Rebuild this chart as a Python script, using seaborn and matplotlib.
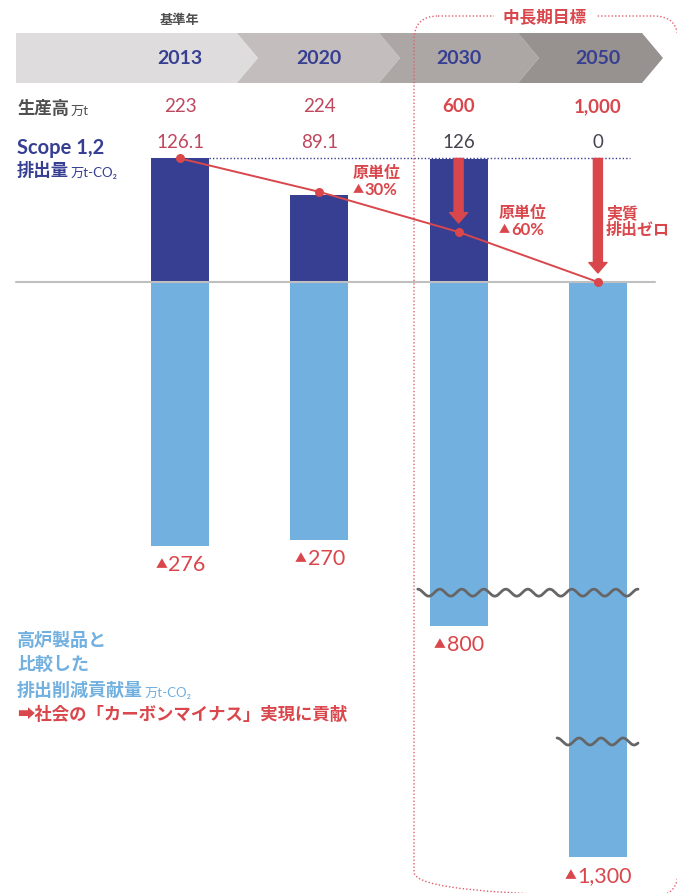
import numpy as np
import pandas as pd
import matplotlib
matplotlib.use('Agg')
import matplotlib.pyplot as plt
import matplotlib.transforms as mtransforms
from matplotlib.patches import Polygon, FancyBboxPatch
import seaborn as sns

# --- Data ---
YEARS = ['2013', '2020', '2030', '2050']
PRODUCTION = [223, 224, 600, 1000]          # 生産高 万t
SCOPE12 = [126.1, 89.1, 126, 0]             # Scope 1,2 排出量 万t-CO2
INTENSITY_TREND = [126.1, 92, 51, 0]        # 原単位の推移 (2013年排出量を基準に表示)
REDUCTION = [276, 270, 800, 1300]           # 高炉製品と比較した排出削減貢献量 万t-CO2
INTENSITY_CUT = {'2020': 30, '2030': 60}    # 原単位 ▲%
TARGET_YEARS = ['2030', '2050']             # 中長期目標
BASE_YEAR = '2013'

# --- Colours ---
NAVY = '#363f92'
LIGHT = '#72b0e0'
RED = '#d9474c'
CRIMSON = '#bf475e'
DARK = '#454550'
GREY_TXT = '#505050'
BAND = ['#dfdcdd', '#c3bebd', '#aca6a5', '#979190']

# --- Layout (pixels of the 677x893 picture) ---
W, H = 677, 893
CAT0, CAT_STEP = 180, 139.3     # px of first category, px between categories
BAR_W = 0.416
ZERO_PX = 282                   # zero line, px from top
# broken value axis: value -> px above the zero line
SCALE_V = [-3000, -1300, -800, -340, 0, 3000]
SCALE_P = [-1360, -575, -344, -325, 0, 2940]
BREAKS = [(-325, '2030'), (-1050, '2050')]


def to_px(v):
    return np.interp(v, SCALE_V, SCALE_P)


def from_px(p):
    return np.interp(p, SCALE_P, SCALE_V)


sns.set_theme(style='white')
plt.rcParams['font.family'] = ['Lato', 'Noto Sans CJK JP', 'DejaVu Sans']

fig = plt.figure(figsize=(W / 100, H / 100), dpi=100)
ax = fig.add_axes([0, 0, 1, 1])
PX = mtransforms.Affine2D().scale(1 / W, -1 / H).translate(0, 1) + fig.transFigure

df = pd.DataFrame({
    'year': YEARS,
    'scope': SCOPE12,
    'reduction': [-r for r in REDUCTION],
    'trend': INTENSITY_TREND,
})
pos = {y: i for i, y in enumerate(YEARS)}

# bars
sns.barplot(data=df, x='year', y='reduction', order=YEARS, color=LIGHT, saturation=1,
            width=BAR_W, errorbar=None, linewidth=0, ax=ax, zorder=2)
sns.barplot(data=df, x='year', y='scope', order=YEARS, color=NAVY, saturation=1,
            width=BAR_W, errorbar=None, linewidth=0, ax=ax, zorder=2)
# intensity trend line
sns.lineplot(x=np.arange(len(YEARS)), y=df['trend'].values, color=RED, lw=1.4,
             marker='o', markersize=6.5, markeredgewidth=0, ax=ax, zorder=6)

ax.set_yscale('function', functions=(to_px, from_px))
ax.set_xlim(-CAT0 / CAT_STEP, (W - CAT0) / CAT_STEP)
ax.set_ylim(from_px(ZERO_PX - H), from_px(ZERO_PX))
ax.set_axis_off()

XPX = mtransforms.blended_transform_factory(ax.transData, PX)
PXY = mtransforms.blended_transform_factory(PX, ax.transData)

# zero line and base-level dotted line
ax.plot([16, 655], [0, 0], transform=PXY, color='#bfbfbf', lw=1.5, zorder=4)
ax.hlines(SCOPE12[0], BAR_W / 2, 3.23, color=NAVY, lw=1, ls=(0, (1, 1.5)), zorder=3)

# arrows down to the trend for target years
for y in TARGET_YEARS:
    i = pos[y]
    ax.annotate('', xy=(i, INTENSITY_TREND[i]), xytext=(i, SCOPE12[0]),
                arrowprops=dict(arrowstyle='simple,head_length=0.75,head_width=1.3,tail_width=0.65',
                                color=RED, shrinkA=0, shrinkB=6.5, mutation_scale=10),
                zorder=5)

# axis-break waves
for val, first in BREAKS:
    x0 = pos[first] - BAR_W / 2 - 0.085
    x1 = len(YEARS) - 1 + BAR_W / 2 + 0.08
    (px0, cy), (px1, _) = ax.transData.transform([(x0, val), (x1, val)])
    xs = np.linspace(px0, px1, 400)
    ys = cy + 3.5 * np.cos(2 * np.pi * (xs - px0) / 22)
    ax.plot(xs, ys, transform=mtransforms.IdentityTransform(), color='#666666',
            lw=2, solid_capstyle='round', zorder=5)

# header chevron band
edges = [16, 237, 379, 518, 642]
tip = 21
for k in range(4):
    xl, xr = edges[k], edges[k + 1]
    pts = [(xl, 33), (xr, 33), (xr + tip, 58), (xr, 83), (xl, 83)]
    if k > 0:
        pts.append((xl + tip, 58))
    ax.add_patch(Polygon(pts, closed=True, transform=PX, fc=BAND[k], ec='none', zorder=1))

# dotted frame for mid/long-term targets
ax.add_patch(FancyBboxPatch((414, 16), 264, 880, boxstyle='round,pad=0,rounding_size=24',
                            transform=PX, fill=False, ec='#e0606e', lw=1,
                            ls=(0, (1, 1.5)), zorder=2.5))
ax.text(545, 17, '  中長期目標  ', transform=PX, ha='center', va='center', fontsize=12,
        weight='bold', color=RED, zorder=6,
        bbox=dict(fc='white', ec='none', pad=1))
ax.text(pos[BASE_YEAR], 20, '基準年', transform=XPX, ha='center', va='center',
        fontsize=9.5, weight='bold', color=GREY_TXT, zorder=6)

for i, y in enumerate(YEARS):
    ax.text(i, 59, y, transform=XPX, ha='center', va='center', fontsize=14,
            weight='bold', color=NAVY, zorder=6)
    target = y in TARGET_YEARS
    ax.text(i, 107, f'{PRODUCTION[i]:,}', transform=XPX, ha='center', va='center',
            fontsize=13.5, weight='bold' if target else 'normal',
            color=RED if target else CRIMSON, zorder=6)
    ax.text(i, 143, f'{SCOPE12[i]:g}', transform=XPX, ha='center', va='center',
            fontsize=13.5, color=DARK if target else CRIMSON, zorder=6)


def label_with_unit(x, base, main, unit, color, main_size, unit_size=9.5):
    t = ax.text(x, base, main, transform=PX, ha='left', va='baseline',
                fontsize=main_size, weight='bold', color=color)
    if unit:
        ax.annotate(unit, (1, 0), xycoords=t, xytext=(1, 0), textcoords='offset points',
                    ha='left', va='bottom', fontsize=unit_size, color=color)


label_with_unit(17, 114, '生産高', '万t', GREY_TXT, 12.5)
label_with_unit(17, 154, 'Scope 1,2', None, NAVY, 14.5)
label_with_unit(17, 176, '排出量', '万t-CO₂', NAVY, 12.5)
label_with_unit(17, 646, '高炉製品と', None, LIGHT, 13)
label_with_unit(17, 670, '比較した', None, LIGHT, 13)
label_with_unit(17, 696, '排出削減貢献量', '万t-CO₂', LIGHT, 13)
label_with_unit(17, 720, '➡社会の「カーボンマイナス」実現に貢献', None, RED, 12.5)


def tri_after(anchor_xy, anchor_coords, dx, text, size, weight='normal', tri_size=8.5):
    tri = ax.annotate('▲', anchor_xy, xycoords=anchor_coords, xytext=(dx, 0),
                      textcoords='offset points', ha='left', va='center',
                      fontsize=tri_size, color=RED, zorder=6)
    ax.annotate(text, (1, 0.5), xycoords=tri, xytext=(1, 0), textcoords='offset points',
                ha='left', va='center', fontsize=size, weight=weight, color=RED, zorder=6)


# 原単位 notes
note_dx = {'2020': 33, '2030': 40}
note_y = {'2020': 173, '2030': 213}
for y, cut in INTENSITY_CUT.items():
    i = pos[y]
    ax.annotate('原単位', (i, note_y[y]), xycoords=XPX, xytext=(note_dx[y] * 0.72, 0),
                textcoords='offset points', ha='left', va='center', fontsize=11.5,
                weight='bold', color=RED, zorder=6)
    tri_after((i, note_y[y] + 17), XPX, note_dx[y] * 0.72, f'{cut}%', 12,
              weight='bold', tri_size=8)
i = pos['2050']
for dy, line in [(213, '実質'), (230, '排出ゼロ')]:
    ax.annotate(line, (i, dy), xycoords=XPX, xytext=(8 * 0.72, 0), textcoords='offset points',
                ha='left', va='center', fontsize=11.5, weight='bold', color=RED, zorder=6)

# reduction values under the bars
for i, r in enumerate(REDUCTION):
    num = ax.annotate(f'{r:,}', (i, -r), xycoords='data', xytext=(5, -13.5),
                      textcoords='offset points', ha='center', va='center',
                      fontsize=15.5, color=RED, zorder=6)
    ax.annotate('▲', (0, 0.5), xycoords=num, xytext=(-1, 0), textcoords='offset points',
                ha='right', va='center', fontsize=8.5, color=RED, zorder=6)

fig.savefig('out.png', dpi=100)
